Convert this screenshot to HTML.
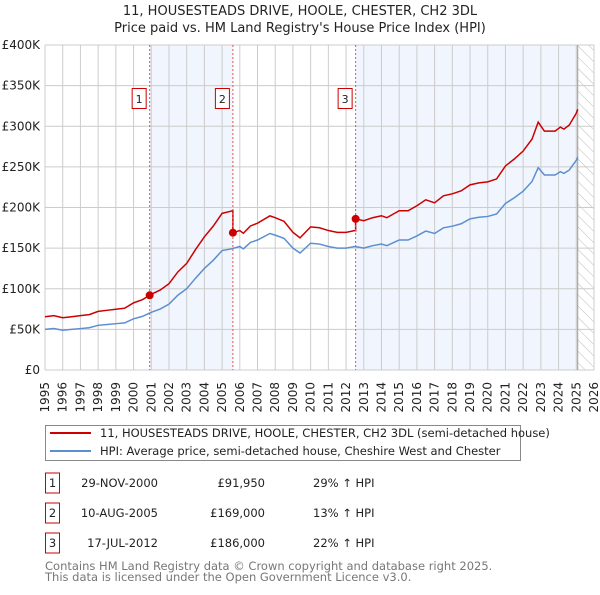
<!DOCTYPE html>
<html><head><meta charset="utf-8"><style>
body{margin:0;background:#fff;font-family:"Liberation Sans","DejaVu Sans",sans-serif;}
svg text{font-family:"DejaVu Sans","Liberation Sans",sans-serif;}
</style></head><body>
<svg id="c" width="600" height="590" xmlns="http://www.w3.org/2000/svg">
<defs><pattern id="hatch" width="8" height="8" patternUnits="userSpaceOnUse" patternTransform="rotate(-45)"><line x1="0" y1="0" x2="0" y2="8" stroke="#bbb" stroke-width="1"/></pattern></defs>
<text x="300" y="15" text-anchor="middle" font-size="13" fill="#222">11, HOUSESTEADS DRIVE, HOOLE, CHESTER, CH2 3DL</text>
<text x="300" y="32" text-anchor="middle" font-size="13" fill="#222">Price paid vs. HM Land Registry's House Price Index (HPI)</text>
<g id="plot"></g>
<g>
<rect x="45.5" y="425.5" width="475" height="35" fill="#fff" stroke="#888"/>
<line x1="50" y1="433" x2="91" y2="433" stroke="#cc0000" stroke-width="2"/>
<text x="100" y="437" font-size="11.5" fill="#222">11, HOUSESTEADS DRIVE, HOOLE, CHESTER, CH2 3DL (semi-detached house)</text>
<line x1="50" y1="451" x2="91" y2="451" stroke="#5b8fd1" stroke-width="2"/>
<text x="100" y="455" font-size="11.5" fill="#222">HPI: Average price, semi-detached house, Cheshire West and Chester</text>
</g>
<g id="table" font-size="11.5" fill="#222"></g>
<text x="45" y="570" font-size="11.5" fill="#777">Contains HM Land Registry data © Crown copyright and database right 2025.</text>
<text x="45" y="581" font-size="11.5" fill="#777">This data is licensed under the Open Government Licence v3.0.</text>
</svg>
<script>
const hpiYears=[1995,1995.5,1996,1996.5,1997,1997.5,1998,1998.5,1999,1999.5,2000,2000.5,2001,2001.5,2002,2002.5,2003,2003.5,2004,2004.5,2005,2005.5,2006,2006.2,2006.6,2007,2007.7,2008,2008.5,2009,2009.4,2010,2010.5,2011,2011.5,2012,2012.5,2013,2013.5,2014,2014.3,2015,2015.5,2016,2016.5,2017,2017.5,2018,2018.5,2019,2019.5,2020,2020.5,2021,2021.5,2022,2022.5,2022.85,2023.2,2023.8,2024.1,2024.3,2024.6,2025,2025.08];
const hpiValues=[50,51,49,50,51,52,55,56,57,58,63,66,71,75,81,92,100,113,125,135,147,149,152,149,157,160,168,166,162,150,144,156,155,152,150,150,152,150,153,155,153,160,160,165,171,168,175,177,180,186,188,189,192,205,212,220,232,249,240,240,244,242,246,258,262];
const saleLabels=["1","2","3"];
const saleYears=[2000.91,2005.61,2012.54];
const salePrices=[91950,169000,186000];
const saleDates=["29-NOV-2000","10-AUG-2005","17-JUL-2012"];
const salePriceText=["£91,950","£169,000","£186,000"];
const saleHpiText=["29% ↑ HPI","13% ↑ HPI","22% ↑ HPI"];
const yTicks=[0,50,100,150,200,250,300,350,400];
const yTickLabels=["£0","£50K","£100K","£150K","£200K","£250K","£300K","£350K","£400K"];
const xTicks=[1995,1996,1997,1998,1999,2000,2001,2002,2003,2004,2005,2006,2007,2008,2009,2010,2011,2012,2013,2014,2015,2016,2017,2018,2019,2020,2021,2022,2023,2024,2025,2026];
const dataEnd=2025.08;

const L=45,R=594,T=45,B=370,X0=1995,X1=2026;
const x=v=>L+(v-X0)*(R-L)/(X1-X0);
const y=v=>B-v*(B-T)/400;
const NS="http://www.w3.org/2000/svg";
const plot=document.getElementById('plot');
function mk(tag,attrs,parent){const e=document.createElementNS(NS,tag);for(const k in attrs)e.setAttribute(k,attrs[k]);(parent||plot).appendChild(e);return e;}
function hpiAt(t){for(let i=1;i<hpiYears.length;i++){if(t<=hpiYears[i]){const a=hpiYears[i-1],b=hpiYears[i];return hpiValues[i-1]+(hpiValues[i]-hpiValues[i-1])*(t-a)/(b-a);}}return hpiValues[hpiValues.length-1];}

for(let i=0;i<saleYears.length;i+=2){
  const end=i+1<saleYears.length?saleYears[i+1]:dataEnd;
  const r=mk('rect',{x:x(saleYears[i]),y:T,width:x(end)-x(saleYears[i]),height:B-T,fill:'#eef3fc',opacity:0.8});
  
  
}
const hr=mk('rect',{x:x(dataEnd),y:T,width:R-x(dataEnd),height:B-T,fill:'url(#hatch)'});


yTicks.forEach((v,i)=>{
  const g=mk('line',{x1:L,x2:R,y1:y(v),y2:y(v),stroke:'#ccc','stroke-width':1});
  
  
  const t=mk('text',{x:L-5,y:y(v)+4,'text-anchor':'end','font-size':12,fill:'#222'});
  t.textContent=yTickLabels[i];
  
  
});
xTicks.forEach(v=>{
  const g=mk('line',{x1:x(v),x2:x(v),y1:T,y2:B,stroke:'#ccc','stroke-width':1});
  
  
  const t=mk('text',{x:0,y:0,'text-anchor':'end','font-size':12,fill:'#222',transform:`translate(${x(v)+4},${B+12}) rotate(-90)`});
  t.textContent=v;
  
  
});
const el=mk('line',{x1:x(dataEnd),x2:x(dataEnd),y1:T,y2:B,stroke:'#999','stroke-width':1});


const hp=mk('polyline',{points:hpiYears.map((t,i)=>x(t)+','+y(hpiValues[i])).join(' '),fill:'none',stroke:'#5b8fd1','stroke-width':1.5});


const ratios=saleYears.map((t,i)=>salePrices[i]/1000/hpiAt(t));
const pts=[];
hpiYears.forEach((t,i)=>{
  let k=0;for(let j=0;j<saleYears.length;j++)if(t>=saleYears[j])k=j;
  if(i>0){for(let j=0;j<saleYears.length;j++){if(saleYears[j]>hpiYears[i-1]&&saleYears[j]<=t){const h=hpiAt(saleYears[j]);if(j>0)pts.push([saleYears[j],h*ratios[j-1]]);pts.push([saleYears[j],h*ratios[j]]);}}}
  pts.push([t,hpiValues[i]*ratios[k]]);
});
const pp=mk('polyline',{points:pts.map(p=>x(p[0])+','+y(p[1])).join(' '),fill:'none',stroke:'#cc0000','stroke-width':1.5});


saleYears.forEach((t,i)=>{
  const dl=mk('line',{x1:x(t),x2:x(t),y1:T,y2:B,stroke:'#e05555','stroke-width':1,'stroke-dasharray':'2,2'});
  
  
  const c=mk('circle',{cx:x(t),cy:y(salePrices[i]/1000),r:4,fill:'#cc0000'});
  
  
  const b=mk('rect',{x:x(t)-17.5,y:88.5,width:14,height:20,fill:'#fff',stroke:'#cc0000'});
  
  
  const bt=mk('text',{x:x(t)-10.5,y:103,'text-anchor':'middle','font-size':11,fill:'#222'});
  bt.textContent=saleLabels[i];
  
  
});
const tb=document.getElementById('table');
saleYears.forEach((t,i)=>{
  const cy=483+i*30;
  const r=mk('rect',{x:45.5,y:cy-10,width:14,height:20,fill:'#fff',stroke:'#cc0000'},tb);
  
  
  const cells=[[52.5,saleLabels[i],'middle'],[158,saleDates[i],'end'],[265,salePriceText[i],'end'],[313,saleHpiText[i],'start']];
  const names=['table-badge-label','sale-date','sale-price','sale-hpi-change'];
  cells.forEach((c,j)=>{
    const e=mk('text',{x:c[0],y:cy+4,'text-anchor':c[2]},tb);
    e.textContent=c[1];
    
    
  });
});
</script>
</body></html>
